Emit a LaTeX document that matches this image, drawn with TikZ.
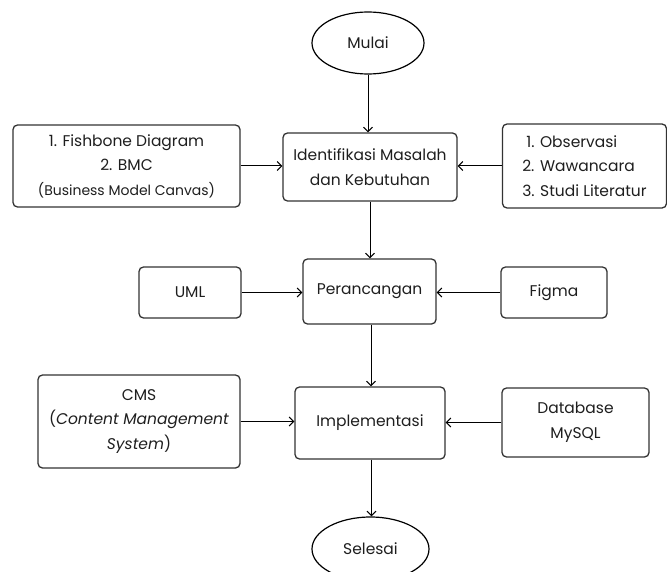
\documentclass[tikz,border=0pt]{standalone}
\usepackage{fontspec}
\setmainfont{Poppins}
\usetikzlibrary{arrows.meta,shapes.geometric}
\definecolor{edgegray}{HTML}{333333}
\definecolor{inkgray}{HTML}{1E1E1E}
\begin{document}
\begin{tikzpicture}[x=1bp,y=-1bp,
  every node/.style={text=inkgray, font=\fontsize{15.5bp}{24.5bp}\selectfont},
  stepbox/.style={draw=edgegray, line width=1.3bp, rounded corners=4.5bp,
    align=center, inner sep=0pt},
  terminal/.style={draw=black, line width=1.2bp, ellipse, inner sep=0pt},
  arr/.style={draw=black, line width=1bp, -{Straight Barb[length=4.5bp,width=9bp]}}]
\useasboundingbox (0,0) rectangle (667,572);
\clip (0,0) rectangle (667,572);

% start and end
\node[terminal, minimum width=112bp, minimum height=62bp] (mulai) at (368,43) {Mulai};
\node[terminal, minimum width=117bp, minimum height=64bp] (selesai) at (370.5,549) {Selesai};

% main process column
\node[stepbox, minimum width=174bp, minimum height=68bp] (ident) at (370,167)
  {Identifikasi Masalah\\dan Kebutuhan};
\node[stepbox, minimum width=133bp, minimum height=65bp] (ranc) at (369.5,291.5) {Perancangan};
\node[stepbox, minimum width=150bp, minimum height=72bp] (impl) at (370,423) {Implementasi};

% inputs on the left
\node[stepbox, minimum width=227bp, minimum height=82bp] (fish) at (126.5,166)
  {1. Fishbone Diagram\\2. BMC\\{\fontsize{14bp}{24bp}\selectfont(Business Model Canvas)}};
\node[stepbox, minimum width=102bp, minimum height=51bp] (uml) at (190,292.5) {UML};
\node[stepbox, minimum width=202bp, minimum height=93bp] (cms) at (139,421.5)
  {CMS\\(\textit{Content Management}\\\textit{System})};

% inputs on the right
\node[stepbox, align=left, minimum width=164bp, minimum height=84bp] (obs) at (584.5,166)
  {\hspace*{4bp}1. Observasi\\2. Wawancara\\3. Studi Literatur};
\node[stepbox, minimum width=106bp, minimum height=51bp] (figma) at (554,292.5) {Figma};
\node[stepbox, minimum width=147bp, minimum height=69bp] (db) at (575.5,422.5)
  {Database\\MySQL};

% flow down the column
\draw[arr] (mulai.south) -- (mulai.south |- ident.north);
\draw[arr] (ident.south) -- (ident.south |- ranc.north);
\draw[arr] ([xshift=1.5bp]ranc.south) -- ([xshift=1.5bp]ranc.south |- impl.north);
\draw[arr] ([xshift=1.5bp]impl.south) -- ([xshift=1.5bp]impl.south |- selesai.north);

% side inputs
\draw[arr] (fish.east) -- (fish.east -| ident.west);
\draw[arr] (obs.west) -- (obs.west -| ident.east);
\draw[arr] (uml.east) -- (uml.east -| ranc.west);
\draw[arr] (figma.west) -- (figma.west -| ranc.east);
\draw[arr] (cms.east) -- (cms.east -| impl.west);
\draw[arr] (db.west) -- (db.west -| impl.east);
\end{tikzpicture}
\end{document}
